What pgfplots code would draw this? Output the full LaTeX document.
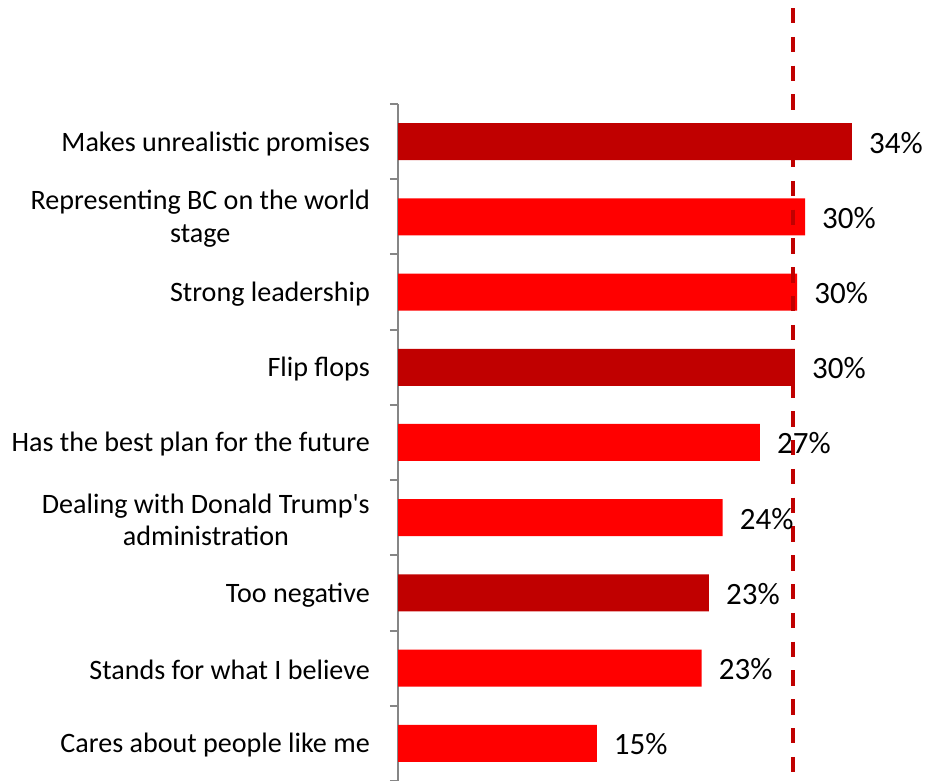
\documentclass[border=0pt]{standalone}
\usepackage{fontspec}
\setmainfont{Carlito}
\usepackage{pgfplots}
\pgfplotsset{compat=1.18}
\definecolor{barred}{HTML}{FF0000}
\definecolor{bardark}{HTML}{C00000}
\definecolor{axgray}{HTML}{868686}
\begin{document}
\begin{tikzpicture}
\path[use as bounding box] (0,0) rectangle (926pt,781pt);
\begin{axis}[
  at={(398pt,0pt)}, anchor=south west,
  scale only axis,
  width=516.75pt, height=677pt,
  xmin=0, xmax=39,
  ymin=-0.5, ymax=8.5,
  axis x line=none,
  axis y line*=left,
  y axis line style={draw=axgray, line width=2pt},
  ytick={0,...,8},
  yticklabels={
    {Cares about people like me},
    {Stands for what I believe},
    {Too negative},
    {Dealing with Donald Trump\textquotesingle s\\administration},
    {Has the best plan for the future},
    {Flip flops},
    {Strong leadership},
    {Representing BC on the world\\stage},
    {Makes unrealistic promises}},
  major tick length=0pt,
  minor ytick={-0.5,0.5,...,8.5},
  minor tick length=8pt,
  tick align=outside,
  minor tick style={draw=axgray, line width=2pt},
  yticklabel style={font=\fontsize{28.1}{32.5}\selectfont, align=center, inner sep=0pt, xshift=-28pt, yshift=-2pt, text=black},
  clip=false,
  barstyle/.style={xbar, bar width=37pt, bar shift=0pt, draw=none,
    point meta=explicit symbolic, nodes near coords,
    nodes near coords style={font=\fontsize{31}{36}\selectfont, inner sep=0pt, xshift=17pt, yshift=-1pt, anchor=west, text=black}},
]
\addplot[barstyle, fill=barred] coordinates {
  (15.0,0) [15\%]
  (22.92,1) [23\%]
  (24.5,3) [24\%]
  (27.32,4) [27\%]
  (30.13,6) [30\%]
  (30.72,7) [30\%]
};
\addplot[barstyle, fill=bardark] coordinates {
  (23.47,2) [23\%]
  (29.96,5) [30\%]
  (34.26,8) [34\%]
};
\addplot[draw=bardark, line width=4.3pt, dash pattern=on 15.3pt off 13.5pt, mark=none, forget plot] coordinates {(29.79,9.776) (29.79,-0.5)};
\end{axis}
\end{tikzpicture}
\end{document}
